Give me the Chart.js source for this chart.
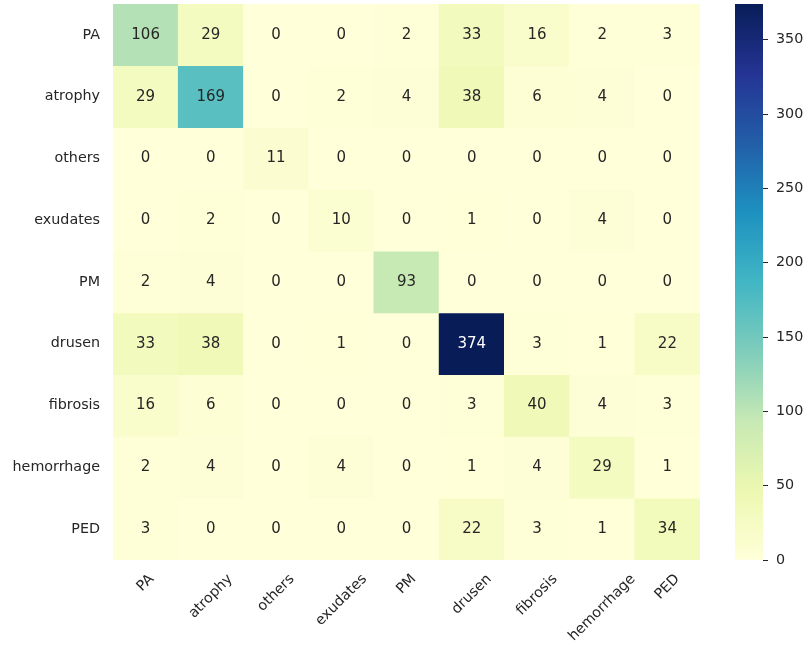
<!DOCTYPE html>
<html>
<head>
<meta charset="utf-8">
<script src="https://cdn.jsdelivr.net/npm/chart.js@4.4.1/dist/chart.umd.min.js"></script>
<style>
  body { margin: 0; background: #ffffff; }
  #heat { position: absolute; left: 0; top: 0; }
  #cbar { position: absolute; left: 725px; top: 0; }
</style>
</head>
<body>
<canvas id="heat" width="712" height="646"></canvas>
<canvas id="cbar" width="83" height="646"></canvas>
<script>

// confusion matrix, rows = true class, cols = predicted
const labels = ['PA', 'atrophy', 'others', 'exudates', 'PM', 'drusen', 'fibrosis', 'hemorrhage', 'PED'];

const row_PA         = [106, 29, 0, 0, 2, 33, 16, 2, 3];
const row_atrophy    = [29, 169, 0, 2, 4, 38, 6, 4, 0];
const row_others     = [0, 0, 11, 0, 0, 0, 0, 0, 0];
const row_exudates   = [0, 2, 0, 10, 0, 1, 0, 4, 0];
const row_PM         = [2, 4, 0, 0, 93, 0, 0, 0, 0];
const row_drusen     = [33, 38, 0, 1, 0, 374, 3, 1, 22];
const row_fibrosis   = [16, 6, 0, 0, 0, 3, 40, 4, 3];
const row_hemorrhage = [2, 4, 0, 4, 0, 1, 4, 29, 1];
const row_PED        = [3, 0, 0, 0, 0, 22, 3, 1, 34];

const matrix = [row_PA, row_atrophy, row_others, row_exudates, row_PM,
                row_drusen, row_fibrosis, row_hemorrhage, row_PED];

const colorbarTicks = [0, 50, 100, 150, 200, 250, 300, 350];

const vmax = Math.max(...matrix.flat());

// YlGnBu
const ylgnbu = [
    [255, 255, 217], [237, 248, 177], [199, 233, 180], [127, 205, 187], [65, 182, 196],
    [29, 145, 192], [34, 94, 168], [37, 52, 148], [8, 29, 88]
];

function cmap(v) {
    let t = Math.min(Math.max(v / vmax, 0), 1) * (ylgnbu.length - 1);
    let i = Math.min(Math.floor(t), ylgnbu.length - 2);
    let f = t - i;
    let a = ylgnbu[i], b = ylgnbu[i + 1];
    return a.map((c, k) => Math.round(c + (b[k] - c) * f));
}

function lum(rgb) {
    const lin = rgb.map(c => {
        c = c / 255;
        return c <= 0.03928 ? c / 12.92 : Math.pow((c + 0.055) / 1.055, 2.4);
    });
    return 0.2126 * lin[0] + 0.7152 * lin[1] + 0.0722 * lin[2];
}

const textColor = '#262626';
const fontFamily = "'DejaVu Sans', sans-serif";
const tickSize = 14.3;

const datasets = matrix.map((row, r) => ({
    label: labels[r],
    data: row.map(() => [r, r + 1]),
    backgroundColor: row.map(v => 'rgb(' + cmap(v).join(',') + ')'),
    borderWidth: 0,
    grouped: false,
    barPercentage: 1,
    categoryPercentage: 1,
}));

// cell numbers
const annotPlugin = {
    id: 'annot',
    afterDatasetsDraw(chart) {
        const ctx = chart.ctx;
        const xs = chart.scales.x, ys = chart.scales.y;
        ctx.save();
        ctx.font = '15px ' + fontFamily;
        ctx.textAlign = 'center';
        ctx.textBaseline = 'middle';
        matrix.forEach((row, r) => {
            row.forEach((v, j) => {
                ctx.fillStyle = lum(cmap(v)) > 0.408 ? textColor : '#ffffff';
                ctx.fillText(String(v), xs.getPixelForValue(j), ys.getPixelForValue(r + 0.5));
            });
        });
        ctx.restore();
    }
};

// rotated x labels, centred under the column like matplotlib does
const xLabelPlugin = {
    id: 'xlabels',
    afterDraw(chart) {
        const ctx = chart.ctx;
        const xs = chart.scales.x;
        ctx.save();
        ctx.font = tickSize + 'px ' + fontFamily;
        ctx.fillStyle = textColor;
        ctx.textAlign = 'center';
        ctx.textBaseline = 'middle';
        labels.forEach((lab, j) => {
            const w = ctx.measureText(lab).width;
            const half = (w + tickSize * 1.164) * Math.SQRT1_2 / 2;
            const cx = xs.getPixelForValue(j);
            const cy = chart.chartArea.bottom + 11 + half;
            ctx.save();
            ctx.translate(cx, cy);
            ctx.rotate(-Math.PI / 4);
            ctx.fillText(lab, 0, 0);
            ctx.restore();
        });
        ctx.restore();
    }
};

const heat = new Chart(document.getElementById('heat'), {
    type: 'bar',
    data: { labels: labels, datasets: datasets },
    options: {
        responsive: false,
        animation: false,
        layout: { padding: { top: 4, bottom: 86, right: 12, left: 0 } },
        plugins: { legend: { display: false }, tooltip: { enabled: false } },
        scales: {
            x: {
                type: 'category',
                display: false,
            },
            y: {
                type: 'linear',
                min: 0,
                max: labels.length,
                reverse: true,
                afterBuildTicks: (scale) => {
                    scale.ticks = labels.map((_, i) => ({ value: i + 0.5 }));
                },
                afterFit: (scale) => {
                    scale.width = 113;
                    scale.paddingTop = 0;
                    scale.paddingBottom = 0;
                },
                ticks: {
                    autoSkip: false,
                    padding: 13,
                    color: textColor,
                    font: { family: fontFamily, size: tickSize },
                    callback: (v) => labels[Math.floor(v)],
                },
                grid: { display: false, drawTicks: false },
                border: { display: false },
            }
        }
    },
    plugins: [annotPlugin, xLabelPlugin]
});

// colorbar
const cbar = new Chart(document.getElementById('cbar'), {
    type: 'bar',
    data: {
        labels: [''],
        datasets: [{
            data: [[0, vmax]],
            backgroundColor: (ctx) => {
                const area = ctx.chart.chartArea;
                if (!area) return 'rgb(255,255,217)';
                const g = ctx.chart.ctx.createLinearGradient(0, area.bottom, 0, area.top);
                ylgnbu.forEach((c, i) => g.addColorStop(i / (ylgnbu.length - 1), 'rgb(' + c.join(',') + ')'));
                return g;
            },
            borderWidth: 0,
            barPercentage: 1,
            categoryPercentage: 1,
        }]
    },
    options: {
        responsive: false,
        animation: false,
        layout: { padding: { top: 4, bottom: 86, left: 10, right: 0 } },
        plugins: { legend: { display: false }, tooltip: { enabled: false } },
        scales: {
            x: { display: false },
            y: {
                position: 'right',
                min: 0,
                max: vmax,
                afterBuildTicks: (scale) => {
                    scale.ticks = colorbarTicks.map(v => ({ value: v }));
                },
                afterFit: (scale) => {
                    scale.width = 45;
                    scale.paddingTop = 0;
                    scale.paddingBottom = 0;
                },
                ticks: {
                    padding: 8,
                    color: textColor,
                    font: { family: fontFamily, size: tickSize },
                },
                grid: { drawOnChartArea: false, tickLength: 5, color: textColor, tickWidth: 1 },
                border: { display: false },
            }
        }
    }
});

</script>
</body>
</html>
